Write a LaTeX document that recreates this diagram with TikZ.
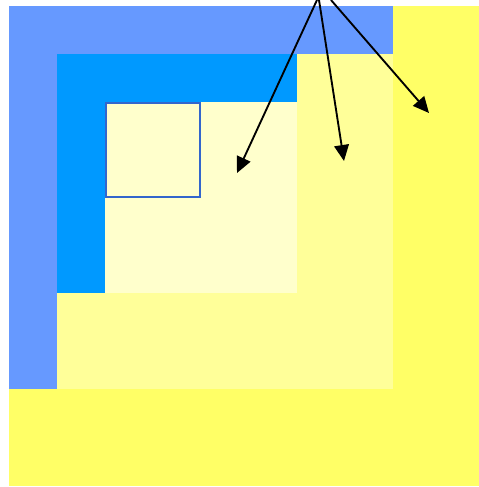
\documentclass[tikz,border=0pt]{standalone}
\usetikzlibrary{arrows.meta}
\definecolor{boxsky}{HTML}{6699FF}
\definecolor{boxazure}{HTML}{0099FF}
\definecolor{boxsun}{HTML}{FFFF66}
\definecolor{boxlemon}{HTML}{FFFF99}
\definecolor{boxcream}{HTML}{FFFFCC}
\definecolor{boxedge}{HTML}{3366CC}
\tikzset{
  lvl/.style={draw=none},
  inner/.style={draw=boxedge, fill=boxcream, line width=1.5pt},
  arr/.style={-{Triangle[length=12pt,width=11pt]}, line width=1.4pt, color=black},
}
\begin{document}
\begin{tikzpicture}[x=0.75pt,y=-0.75pt]
      \useasboundingbox (0,0) rectangle (479,487);
      % nested levels
      \fill[lvl,boxsun] (9,6) rectangle (479,486);
      \fill[lvl,boxsky] (9,6) rectangle (393,389);
      \fill[lvl,boxlemon] (57,54) rectangle (393,389);
      \fill[lvl,boxazure] (57,54) rectangle (297,293);
      \fill[lvl,boxcream] (105,102) rectangle (297,293);
      \draw[inner] (106,103) rectangle (200,197);
      % pointers from above
      \coordinate (srcA) at (317,0);
      \coordinate (srcB) at (319,0);
      \coordinate (srcC) at (331,0);
      \coordinate (tipA) at (237,173);
      \coordinate (tipB) at (344,161);
      \coordinate (tipC) at (429,113);
      \foreach \s/\t in {srcA/tipA,srcB/tipB,srcC/tipC}
        { \draw[arr] (\s) -- (\t); }
    \end{tikzpicture}
\end{document}
